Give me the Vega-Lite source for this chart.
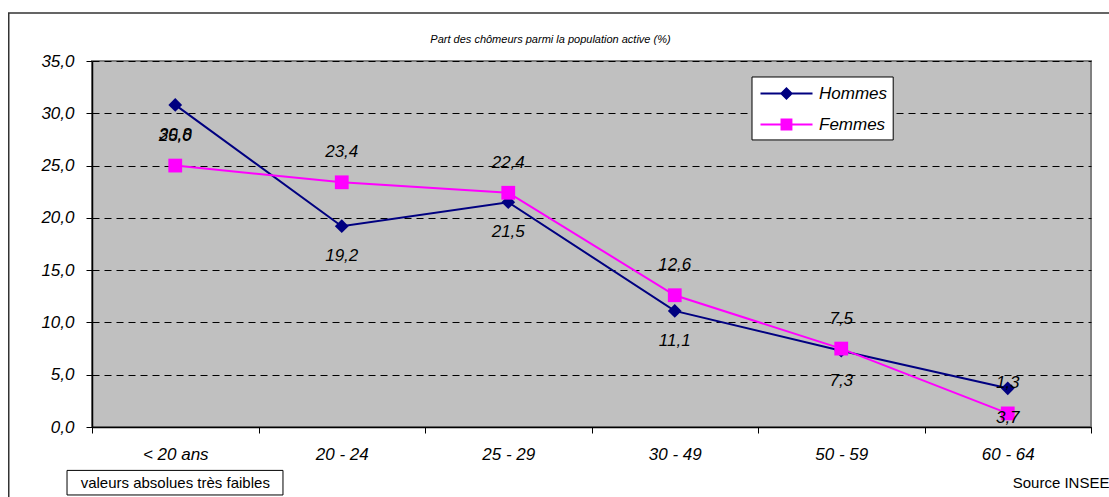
{
  "$schema": "https://vega.github.io/schema/vega-lite/v6.json",
  "autosize": "none",
  "width": 999,
  "height": 366,
  "padding": {"left": 92, "top": 61, "right": 18, "bottom": 70},
  "background": "white",
  "config": {
    "locale": {"number": {"decimal": ",", "thousands": " ", "grouping": [3], "currency": ["", " €"]}},
    "view": {"fill": "#C0C0C0", "stroke": "#808080", "strokeWidth": 2},
    "font": "Liberation Sans"
  },
  "title": {
    "text": "Part des chômeurs parmi la population active (%)",
    "font": "Liberation Sans",
    "fontStyle": "italic",
    "fontWeight": "normal",
    "fontSize": 11,
    "color": "black",
    "anchor": "middle",
    "frame": "group",
    "dx": -41,
    "offset": -33
  },
  "data": {
    "values": [
      {"age": "< 20 ans", "sexe": "Hommes", "taux": 30.8},
      {"age": "20 - 24", "sexe": "Hommes", "taux": 19.2},
      {"age": "25 - 29", "sexe": "Hommes", "taux": 21.5},
      {"age": "30 - 49", "sexe": "Hommes", "taux": 11.1},
      {"age": "50 - 59", "sexe": "Hommes", "taux": 7.3},
      {"age": "60 - 64", "sexe": "Hommes", "taux": 3.7},
      {"age": "< 20 ans", "sexe": "Femmes", "taux": 25.0},
      {"age": "20 - 24", "sexe": "Femmes", "taux": 23.4},
      {"age": "25 - 29", "sexe": "Femmes", "taux": 22.4},
      {"age": "30 - 49", "sexe": "Femmes", "taux": 12.6},
      {"age": "50 - 59", "sexe": "Femmes", "taux": 7.5},
      {"age": "60 - 64", "sexe": "Femmes", "taux": 1.3}
    ]
  },
  "encoding": {
    "x": {
      "field": "age",
      "type": "nominal",
      "sort": null,
      "scale": {"type": "band", "domain": ["< 20 ans", "20 - 24", "25 - 29", "30 - 49", "50 - 59", "60 - 64"], "paddingInner": 0, "paddingOuter": 0},
      "axis": {
        "title": null,
        "labelAngle": 0,
        "labelFont": "Liberation Sans",
        "labelFontStyle": "italic",
        "labelFontSize": 17,
        "labelColor": "black",
        "labelPadding": 13,
        "tickBand": "extent",
        "tickSize": 6,
        "tickColor": "black",
        "domainColor": "black",
        "domainWidth": 1.5,
        "grid": false
      }
    },
    "y": {
      "field": "taux",
      "type": "quantitative",
      "scale": {"domain": [0, 35], "nice": false, "zero": true},
      "axis": {
        "title": null,
        "values": [0, 5, 10, 15, 20, 25, 30, 35],
        "format": ".1f",
        "labelFont": "Liberation Sans",
        "labelFontStyle": "italic",
        "labelFontSize": 17,
        "labelColor": "black",
        "labelPadding": 12,
        "tickSize": 6,
        "tickColor": "black",
        "domainColor": "black",
        "domainWidth": 1.5,
        "grid": true,
        "gridColor": "black",
        "gridDash": [7, 5],
        "gridWidth": 1
      }
    }
  },
  "layer": [
    {
      "transform": [{"filter": "datum.age == '< 20 ans' && datum.sexe == 'Hommes'"}],
      "mark": {"type": "rect", "fill": null, "stroke": "#333333", "strokeWidth": 1.5, "clip": false},
      "encoding": {
        "x": {"datum": "< 20 ans", "bandPosition": -0.5},
        "x2": {"datum": "60 - 64", "bandPosition": 1.3},
        "y": {"datum": 39.6},
        "y2": {"datum": -8}
      }
    },
    {
      "layer": [
        {
          "mark": {"type": "line", "strokeWidth": 2},
          "encoding": {
            "color": {
              "field": "sexe",
              "type": "nominal",
              "scale": {"domain": ["Hommes", "Femmes"], "range": ["#000080", "#FF00FF"]},
              "legend": null
            }
          }
        },
        {
          "mark": {"type": "point", "filled": true, "opacity": 1, "size": 190},
          "encoding": {
            "color": {
              "field": "sexe",
              "type": "nominal",
              "scale": {"domain": ["Hommes", "Femmes"], "range": ["#000080", "#FF00FF"]},
              "legend": null
            },
            "shape": {
              "field": "sexe",
              "type": "nominal",
              "scale": {"domain": ["Hommes", "Femmes"], "range": ["diamond", "square"]},
              "legend": null
            },
            "order": {"field": "sexe", "sort": "descending"}
          }
        },
        {
          "transform": [{"filter": "datum.age == '< 20 ans' && datum.sexe == 'Hommes'"}],
          "mark": {"type": "rect", "fill": "white", "stroke": "black", "strokeWidth": 1, "clip": false},
          "encoding": {
            "x": {"datum": "30 - 49", "bandPosition": 0.964},
            "x2": {"datum": "30 - 49", "bandPosition": 1.812},
            "y": {"datum": 33.47},
            "y2": {"datum": 27.45}
          }
        },
        {
          "transform": [{"filter": "false"}],
          "mark": {"type": "point", "filled": true, "color": "#000080", "fill": "#000080", "opacity": 1, "size": 196, "strokeWidth": 0},
          "encoding": {
            "shape": {
              "field": "sexe",
              "type": "nominal",
              "scale": {"domain": ["Hommes"], "range": ["M-1,-0.14H6.43V0.14H-1ZM1.78,0L2.71,-0.93L3.64,0L2.71,0.93Z"]},
              "legend": {
                "title": null,
                "orient": "none",
                "legendX": 667,
                "legendY": 24,
                "padding": 0,
                "zindex": 1,
                "labelFont": "Liberation Sans",
                "labelFontStyle": "italic",
                "labelFontSize": 17,
                "labelColor": "black",
                "labelOffset": 43,
                "symbolSize": 196,
                "symbolFillColor": "#000080",
                "symbolStrokeWidth": 0,
                "symbolOpacity": 1
              }
            }
          }
        },
        {
          "transform": [{"filter": "false"}],
          "mark": {"type": "point", "filled": true, "color": "#FF00FF", "fill": "#FF00FF", "opacity": 1, "size": 196, "strokeWidth": 0},
          "encoding": {
            "shape": {
              "field": "sexe",
              "type": "nominal",
              "scale": {"domain": ["Femmes"], "range": ["M-1,-0.14H6.43V0.14H-1ZM1.86,-0.85H3.56V0.85H1.86Z"]},
              "legend": {
                "title": null,
                "orient": "none",
                "legendX": 667,
                "legendY": 55,
                "padding": 0,
                "zindex": 1,
                "labelFont": "Liberation Sans",
                "labelFontStyle": "italic",
                "labelFontSize": 17,
                "labelColor": "black",
                "labelOffset": 43,
                "symbolSize": 196,
                "symbolFillColor": "#FF00FF",
                "symbolStrokeWidth": 0,
                "symbolOpacity": 1
              }
            }
          }
        }
      ],
      "resolve": {"scale": {"shape": "independent"}, "legend": {"shape": "independent"}}
    },
    {
      "transform": [{"filter": "datum.sexe == 'Hommes'"}],
      "mark": {"type": "text", "dy": 30, "font": "Liberation Sans", "fontStyle": "italic", "fontSize": 17, "color": "black", "baseline": "middle"},
      "encoding": {"text": {"field": "taux", "type": "quantitative", "format": ".1f"}}
    },
    {
      "transform": [{"filter": "datum.sexe == 'Femmes'"}],
      "mark": {"type": "text", "dy": -30, "font": "Liberation Sans", "fontStyle": "italic", "fontSize": 17, "color": "black", "baseline": "middle"},
      "encoding": {"text": {"field": "taux", "type": "quantitative", "format": ".1f"}}
    },
    {
      "transform": [{"filter": "datum.age == '< 20 ans' && datum.sexe == 'Hommes'"}],
      "mark": {"type": "rect", "fill": "white", "stroke": "black", "strokeWidth": 1, "clip": false},
      "encoding": {
        "x": {"datum": "< 20 ans", "bandPosition": -0.15},
        "x2": {"datum": "< 20 ans", "bandPosition": 1.147},
        "y": {"datum": -4.15},
        "y2": {"datum": -6.5}
      }
    },
    {
      "transform": [{"filter": "datum.age == '< 20 ans' && datum.sexe == 'Hommes'"}],
      "mark": {"type": "text", "text": "valeurs absolues très faibles", "font": "Liberation Sans", "fontSize": 15, "color": "black", "baseline": "middle", "align": "center", "clip": false},
      "encoding": {
        "x": {"datum": "< 20 ans"},
        "y": {"datum": -5.35}
      }
    },
    {
      "transform": [{"filter": "datum.age == '< 20 ans' && datum.sexe == 'Hommes'"}],
      "mark": {"type": "text", "text": "Source INSEE", "font": "Liberation Sans", "fontSize": 15, "color": "black", "baseline": "middle", "align": "left", "clip": false},
      "encoding": {
        "x": {"datum": "60 - 64", "bandPosition": 0.53},
        "y": {"datum": -5.35}
      }
    }
  ]
}
